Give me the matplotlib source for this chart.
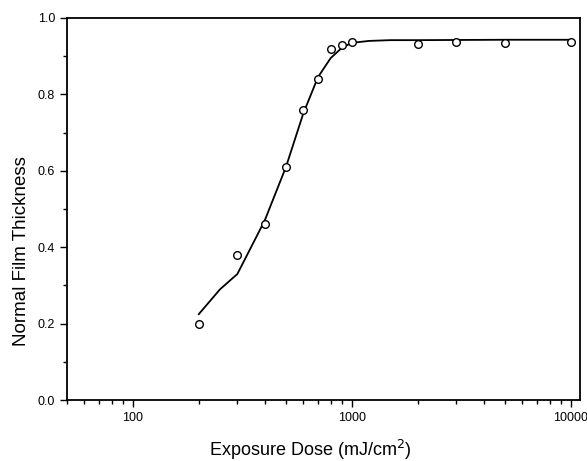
import matplotlib
matplotlib.use("Agg")
import matplotlib.pyplot as plt
from matplotlib.ticker import FixedLocator, FixedFormatter, MultipleLocator, LogLocator, NullFormatter

plt.rcParams["font.family"] = ["Liberation Sans", "DejaVu Sans"]

# measured points
dose = [200, 300, 400, 500, 600, 700, 800, 900, 1000, 2000, 3000, 5000, 10000]
thickness = [0.20, 0.38, 0.46, 0.61, 0.76, 0.84, 0.92, 0.93, 0.937, 0.932, 0.936, 0.935, 0.937]

# fitted curve
fit_dose = [200, 250, 300, 400, 500, 600, 700, 800, 900, 1000, 1200, 1500, 2000, 5000, 10000]
fit_thick = [0.225, 0.29, 0.33, 0.47, 0.61, 0.75, 0.845, 0.895, 0.922, 0.935, 0.94, 0.942, 0.942, 0.943, 0.943]

xticks = [100, 1000, 10000]
xtick_labels = ["100", "1000", "10000"]
yticks = [0.0, 0.2, 0.4, 0.6, 0.8, 1.0]
ytick_labels = ["0.0", "0.2", "0.4", "0.6", "0.8", "1.0"]

fig = plt.figure(figsize=(5.87, 4.61), dpi=100)
ax = fig.add_axes([0.114, 0.132, 0.874, 0.829])

ax.plot(fit_dose, fit_thick, color="black", linewidth=1.3)
ax.plot(dose, thickness, "o", markersize=5.5, markerfacecolor="white",
        markeredgecolor="black", markeredgewidth=1.0)

ax.set_xscale("log")
ax.set_xlim(50, 11000)
ax.set_ylim(0, 1.0)

ax.xaxis.set_major_locator(FixedLocator(xticks))
ax.xaxis.set_major_formatter(FixedFormatter(xtick_labels))
ax.xaxis.set_minor_locator(LogLocator(base=10, subs=range(2, 10)))
ax.xaxis.set_minor_formatter(NullFormatter())
ax.yaxis.set_major_locator(FixedLocator(yticks))
ax.yaxis.set_major_formatter(FixedFormatter(ytick_labels))
ax.yaxis.set_minor_locator(MultipleLocator(0.1))

ax.tick_params(which="both", direction="out", top=False, right=False, width=1.0)
ax.tick_params(which="major", length=5, labelsize=9)
ax.tick_params(which="minor", length=3)
for sp in ax.spines.values():
    sp.set_linewidth(1.3)

ax.set_xlabel("Exposure Dose (mJ/cm$^2$)", fontsize=13)
ax.xaxis.set_label_coords(0.474, -0.1)
ax.set_ylabel("Normal Film Thickness", fontsize=13.5)
ax.yaxis.set_label_coords(-0.072, 0.39)

fig.savefig("out.png", dpi=100)
